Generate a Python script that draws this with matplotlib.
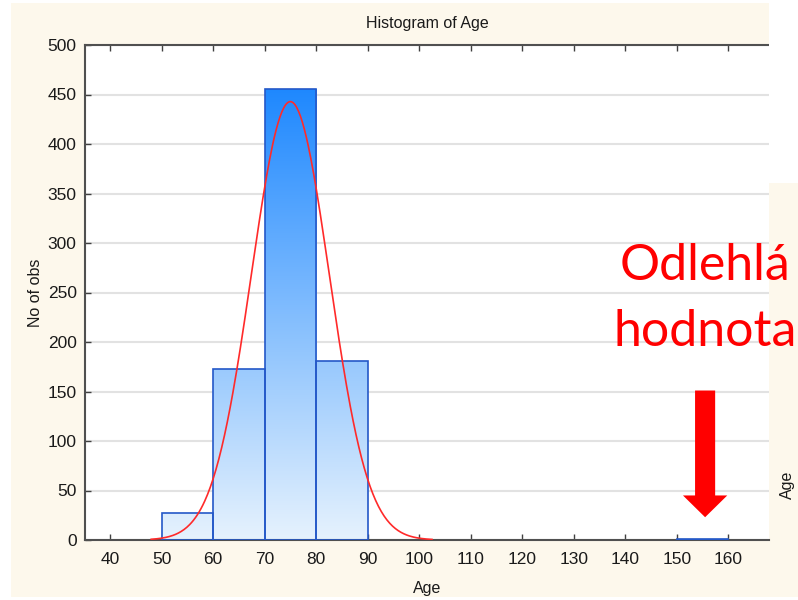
import numpy as np
import matplotlib
matplotlib.use('Agg')
import matplotlib.pyplot as plt
from matplotlib.patches import Rectangle, FancyArrow
from matplotlib.colors import LinearSegmentedColormap

plt.rcParams['font.family'] = ['Liberation Sans', 'DejaVu Sans']

# histogram data
bin_left = [50, 60, 70, 80, 150]
bin_count = [27, 173, 456, 181, 1]
bin_width = 10
# fitted normal curve parameters
fit_mean = 75.0
fit_sd = 7.55
fit_n = 838
x_ticks = list(range(40, 170, 10))
y_ticks = list(range(0, 550, 50))

W, H = 798, 600
fig = plt.figure(figsize=(W / 100, H / 100), dpi=100)
fig.patch.set_facecolor('white')
cream = '#FDF8EC'
# page background
fig.patches.append(Rectangle((11 / W, 3 / H), (W - 11) / W, (H - 6) / H,
                             transform=fig.transFigure, facecolor=cream,
                             edgecolor='none', zorder=-10))

ax = fig.add_axes([85 / W, 60 / H, (769 - 85) / W, 495 / H])
ax.set_facecolor('white')

# bars with vertical gradient
cmap = LinearSegmentedColormap.from_list('bl', ['#E6F2FD', '#1E88FF'])
grad = np.linspace(0, 1, 256).reshape(-1, 1)
top_val = max(bin_count)
for x0, c in zip(bin_left, bin_count):
    rect = Rectangle((x0, 0), bin_width, c, facecolor='none',
                     edgecolor='#2458C8', linewidth=1.2, zorder=3)
    ax.add_patch(rect)
    im = ax.imshow(grad, origin='lower', aspect='auto', cmap=cmap,
                   extent=(35, 170, 0, top_val), zorder=2)
    im.set_clip_path(rect)
ax.set_xlim(35.15, 167.9)
ax.set_ylim(0, 500)

# normal fit
xs = np.linspace(48, 102.5, 300)
ys = fit_n * bin_width / (np.sqrt(2 * np.pi) * fit_sd) * np.exp(-(xs - fit_mean) ** 2 / (2 * fit_sd ** 2))
ax.plot(xs, ys, color='#FF2A2A', linewidth=1.2, zorder=4)

ax.set_xticks(x_ticks)
ax.set_yticks(y_ticks)
ax.yaxis.grid(True, color='#E2E2E2', linewidth=1.5)
ax.set_axisbelow(True)
ax.tick_params(axis='both', direction='in', length=4, width=1, colors='#404040',
               labelsize=12.5, labelcolor='#1A1A1A', top=True, pad=9)
ax.tick_params(axis='y', pad=6)
for s in ['left', 'bottom', 'top']:
    ax.spines[s].set_color('#505050')
    ax.spines[s].set_linewidth(1.5)
ax.spines['right'].set_visible(False)

ax.set_title('Histogram of Age', fontsize=11.5, color='#1A1A1A', pad=12)
ax.set_xlabel('Age', fontsize=11.5, color='#1A1A1A', labelpad=10)
ax.set_ylabel('No of obs', fontsize=11.5, color='#1A1A1A', labelpad=3)

# right edge: white cut-out and stray label
fig.patches.append(Rectangle((769 / W, (H - 183) / H), (W - 769) / W, 183 / H,
                             transform=fig.transFigure, facecolor='white',
                             edgecolor='none', zorder=5))
fig.text(787 / W, 1 - 485 / H, 'Age', rotation=90, ha='center', va='center',
         fontsize=11.5, color='#1A1A1A')

# annotation
fig.text(705 / W, 1 - 266 / H, 'Odlehlá', ha='center', va='center',
         fontsize=36, color='#FF0000', family=['Lato', 'DejaVu Sans'], zorder=10)
fig.text(705 / W, 1 - 332 / H, 'hodnota', ha='center', va='center',
         fontsize=36, color='#FF0000', family=['Lato', 'DejaVu Sans'], zorder=10)
ax.add_patch(FancyArrow(155.5, 151, 0, -128, width=3.9, head_width=8.6,
                        head_length=22, length_includes_head=True,
                        color='#FF0000', linewidth=0, zorder=6, clip_on=False))

fig.savefig('out.png', dpi=100, facecolor=fig.get_facecolor())
